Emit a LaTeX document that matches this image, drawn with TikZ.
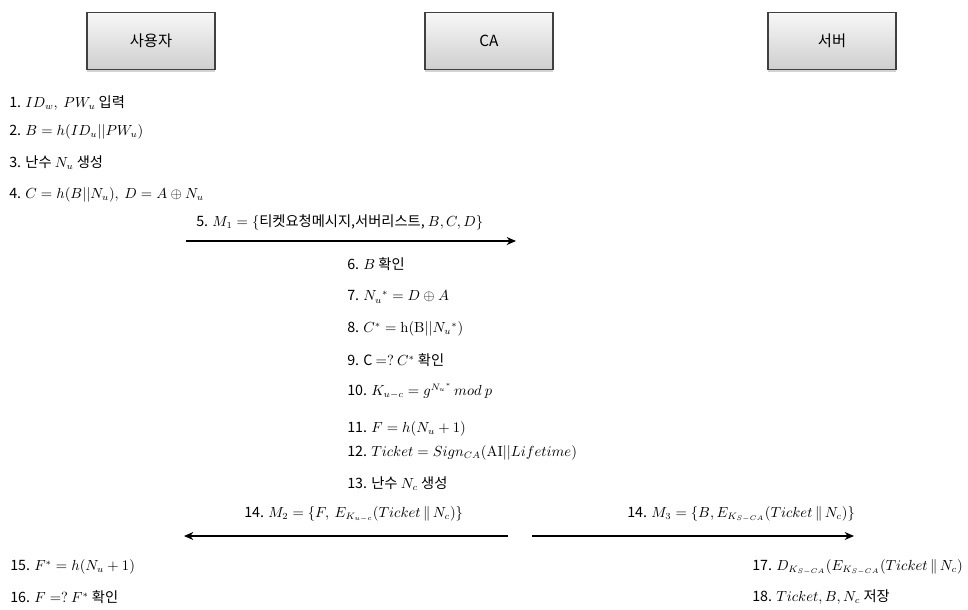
\documentclass[tikz,border=0pt]{standalone}
\usepackage{amsmath,amssymb}
\usepackage[no-math]{fontspec}
\setmainfont{Noto Sans CJK KR}
\usepackage{tikz}
\usetikzlibrary{arrows.meta,shadows}

\begin{document}
\begin{tikzpicture}[x=0.75pt,y=-0.75pt,
  every node/.style={font=\fontsize{10.7}{13}\selectfont},
  party/.style={draw=black!75,line width=0.9pt,minimum width=96pt,minimum height=43pt,
    top color=gray!6,bottom color=gray!38,
    drop shadow={shadow xshift=0pt,shadow yshift=-1.5pt,opacity=0.35}},
  txt/.style={anchor=west,inner sep=0pt},
  msg/.style={-{Stealth[length=7pt,width=6pt]},line width=0.9pt}]
\useasboundingbox (0,0) rectangle (968,610);

\node[party,font=\fontsize{11.5}{13}\selectfont] at(151,41) (user) {사용자};
\node[party,font=\fontsize{11.5}{13}\selectfont] at(489,41) (ca) {CA};
\node[party,font=\fontsize{11.5}{13}\selectfont] at(832,41) (server) {서버};


\node[txt] at(9,103) (u1) {1. $ID_w,\ PW_u$ 입력};
\node[txt] at(9,132) (u2) {2. $B = h(ID_u||PW_u)$};
\node[txt] at(9,163) (u3) {3. 난수 $N_u$ 생성};
\node[txt] at(9,195) (u4) {4. $C = h(B||N_u),\ D = A \oplus N_u$};


\node[txt] at(196,222) (m1) {5. $M_1 = \{$티켓요청메시지,서버리스트, $B,C,D\}$};
\coordinate (m1s) at(186,241);
\coordinate (m1e) at(516,241);
\draw[msg] (m1s) -- (m1e);


\node[txt] at(347,264) (c6) {6. $B$ 확인};
\node[txt] at(347,297) (c7) {7. $N_u{}^* = D \oplus A$};
\node[txt] at(347,329) (c8) {8. $C^* = \mathrm{h}(\mathrm{B}||N_u{}^*)$};
\node[txt] at(347,360) (c9) {9. C $=?$ $C^*$ 확인};
\node[txt] at(347,391) (c10) {10. $K_{u-c} = g^{N_u{}^*}\, mod\ p$};
\node[txt] at(347,429) (c11) {11. $F = h(N_u + 1)$};
\node[txt] at(347,453) (c12) {12. $Ticket = Sign_{CA}(\mathrm{AI}||Lifetime)$};
\node[txt] at(347,484) (c13) {13. 난수 $N_c$ 생성};


\node[txt] at(244,514) (m2) {14. $M_2 = \{F,\ E_{K_{u-c}}(Ticket\,\|\,N_c)\}$};
\coordinate (m2s) at(508,536);
\coordinate (m2e) at(184,536);
\draw[msg] (m2s) -- (m2e);

\node[txt] at(627,514) (m3) {14. $M_3 = \{B, E_{K_{S-CA}}(Ticket\,\|\,N_c)\}$};
\coordinate (m3s) at(532,536);
\coordinate (m3e) at(854,536);
\draw[msg] (m3s) -- (m3e);


\node[txt] at(10,567) (u15) {15. $F^* = h(N_u + 1)$};
\node[txt] at(10,597) (u16) {16. $F =?\ F^*$ 확인};

\node[txt] at(752,567) (s17) {17. $D_{K_{S-CA}}(E_{K_{S-CA}}(Ticket\,\|\,N_c)$};
\node[txt] at(752,597) (s18) {18. $Ticket, B, N_c$ 저장};
\end{tikzpicture}
\end{document}
